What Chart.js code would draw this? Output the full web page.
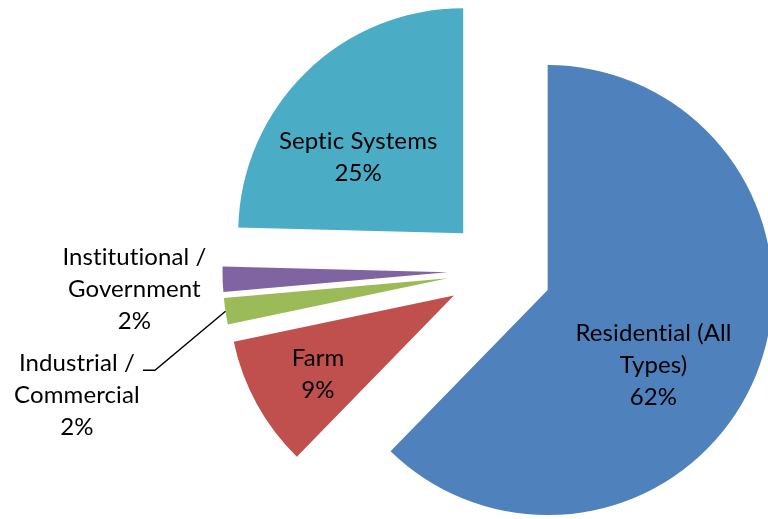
<!DOCTYPE html>
<html>
<head>
<meta charset="utf-8">
<script src="https://cdn.jsdelivr.net/npm/chart.js@4"></script>
<style>
  html, body { margin: 0; padding: 0; background: #fff; }
  #wrap { width: 768px; height: 519px; }
</style>
</head>
<body>
<div id="wrap"><canvas id="pieChart" width="768" height="519"></canvas></div>
<script>
// Sources and their share, in percent
const sourceNames = ['Residential (All Types)', 'Farm', 'Industrial / Commercial', 'Institutional / Government', 'Septic Systems'];
const labelLines = [['Residential (All', 'Types)'], ['Farm'], ['Industrial /', 'Commercial'], ['Institutional /', 'Government'], ['Septic Systems']];
const shares = [62.3, 9.4, 1.9, 1.8, 24.6];
const sliceColors = ['#4F81BD', '#C0504D', '#9BBB59', '#8064A2', '#4BACC6'];

const PIE_RADIUS = 225;
const EXPLODE = 52;          // every slice pulled out this far
const FONT = '24px Lato, "Open Sans", sans-serif';
const LINE_H = 32;

// label block: distance from the slice tip (in radii) and turn off the bisector (deg)
const labelPlacement = [
    { r: 0.598, turn: 16.0 },
    { r: 0.717, turn: -3.8 },
    { r: 1.740, turn: -10.1, leader: true },
    { r: 1.396, turn: -2.8 },
    { r: 0.556, turn: -12.8 }
];

// Move each arc's centre out along its bisector (no radius / angle shrink like `offset` does)
const explodeSlices = {
    id: 'explodeSlices',
    beforeDatasetsDraw(chart) {
        const { left, right, top, bottom } = chart.chartArea;
        const cx = (left + right) / 2, cy = (top + bottom) / 2;
        chart.getDatasetMeta(0).data.forEach(arc => {
            const mid = (arc.startAngle + arc.endAngle) / 2;
            arc.x = cx + Math.cos(mid) * EXPLODE;
            arc.y = cy + Math.sin(mid) * EXPLODE;
        });
    }
};

// Category name + percentage, with a leader line where asked
const sliceLabels = {
    id: 'sliceLabels',
    afterDatasetsDraw(chart) {
        const ctx = chart.ctx;
        const total = shares.reduce((a, b) => a + b, 0);
        ctx.save();
        ctx.font = FONT;
        // tiny spacing keeps "ti" from turning into a ligature
        if ('letterSpacing' in ctx) ctx.letterSpacing = '0.1px';
        ctx.fillStyle = '#000';
        ctx.strokeStyle = '#000';
        ctx.lineWidth = 1.4;
        ctx.textAlign = 'center';
        ctx.textBaseline = 'alphabetic';
        chart.getDatasetMeta(0).data.forEach((arc, i) => {
            const p = labelPlacement[i];
            const mid = (arc.startAngle + arc.endAngle) / 2;
            const a = mid + p.turn * Math.PI / 180;
            const x = arc.x + Math.cos(a) * p.r * arc.outerRadius;
            const y = arc.y + Math.sin(a) * p.r * arc.outerRadius;
            const lines = labelLines[i].concat(Math.round(shares[i] / total * 100) + '%');
            const y0 = y - (lines.length - 1) / 2 * LINE_H;
            lines.forEach((t, k) => ctx.fillText(t, x, y0 + k * LINE_H));
            if (p.leader) {
                const w = ctx.measureText(lines[0]).width;
                const ex = arc.x + Math.cos(mid) * arc.outerRadius;
                const ey = arc.y + Math.sin(mid) * arc.outerRadius;
                const hx = x + w / 2 + 8;
                ctx.beginPath();
                ctx.moveTo(hx, y0 - 0.5);
                ctx.lineTo(hx + 12, y0 - 0.5);
                ctx.lineTo(ex, ey);
                ctx.stroke();
            }
        });
        ctx.restore();
    }
};

new Chart(document.getElementById('pieChart'), {
    type: 'pie',
    data: {
        labels: sourceNames,
        datasets: [{
            data: shares,
            backgroundColor: sliceColors,
            borderWidth: 0,
            clip: false
        }]
    },
    options: {
        responsive: false,
        animation: false,
        radius: PIE_RADIUS,
        layout: { padding: { left: 231, right: 0, top: 22, bottom: 0 } },
        events: [],
        plugins: {
            legend: { display: false },
            tooltip: { enabled: false }
        }
    },
    plugins: [explodeSlices, sliceLabels]
});
</script>
</body>
</html>
